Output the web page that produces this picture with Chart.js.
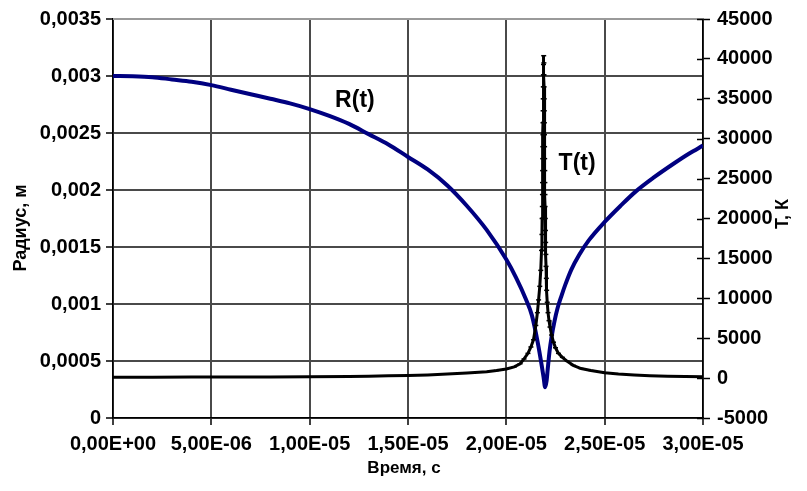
<!DOCTYPE html>
<html>
<head>
<meta charset="utf-8">
<script src="https://cdn.jsdelivr.net/npm/chart.js@4"></script>
<style>
  html, body { margin: 0; padding: 0; background: #fff; }
  #wrap { width: 807px; height: 491px; }
</style>
</head>
<body>
<div id="wrap"><canvas id="c" width="807" height="491"></canvas></div>
<script>
// Tick values of the three axes
const timeTicks = [0, 5e-6, 1e-5, 1.5e-5, 2e-5, 2.5e-5, 3e-5];
const radiusTicks = [0, 0.0005, 0.001, 0.0015, 0.002, 0.0025, 0.003, 0.0035];
const tempTicks = [-5000, 0, 5000, 10000, 15000, 20000, 25000, 30000, 35000, 40000, 45000];

// Bubble radius R(t): time in microseconds, radius in metres
const radiusTime = [0, 1, 2, 3, 4, 5, 6, 7, 8, 9, 10, 11, 12, 13, 14, 15, 16, 17, 18, 19,
  20, 20.5, 21, 21.3, 21.6, 21.8, 21.9, 21.97,
  22.05, 22.1, 22.2, 22.3, 22.45, 22.6, 22.8, 23.0, 23.3, 23.7, 24.2, 25.0, 25.8, 26.6,
  27.5, 28.5, 29.3, 30.0];
const radius = [0.003, 0.002998, 0.00299, 0.00297, 0.00295, 0.00292, 0.00288, 0.00284,
  0.0028, 0.00276, 0.00271, 0.00265, 0.00258, 0.00249, 0.0024, 0.00229, 0.00218, 0.00204,
  0.00186, 0.00165, 0.00139, 0.00123, 0.00104, 0.0009, 0.00066, 0.00046, 0.00035, 0.00027,
  0.00033, 0.00042, 0.00059, 0.00071, 0.00085, 0.00096, 0.00107, 0.00117, 0.0013, 0.00143,
  0.00156, 0.00172, 0.00186, 0.00199, 0.00211, 0.00223, 0.00232, 0.00239];

// Gas temperature T(t): time in microseconds, temperature in kelvin
const tempTime = [0, 2, 4, 6, 8, 10, 12, 13, 14, 15, 16, 17, 18, 19, 19.5, 20, 20.4, 20.7,
  20.9, 21.1, 21.25, 21.38, 21.5, 21.58, 21.64, 21.7, 21.75, 21.79, 21.81,
  21.82, 21.83, 21.835, 21.84, 21.845, 21.85, 21.855, 21.86, 21.865, 21.87, 21.875, 21.88,
  21.885, 21.89, 21.9,
  21.91, 21.915, 21.92, 21.925, 21.93, 21.935, 21.94, 21.945, 21.95, 21.955, 21.96, 21.965,
  21.97, 21.98, 21.99, 22.0, 22.01, 22.02, 22.035, 22.05, 22.08, 22.12, 22.17, 22.22, 22.3,
  22.4, 22.5, 22.65, 22.85, 23.1, 23.4, 23.8, 24.3, 25.0, 25.7, 26.5, 27.3, 28.2, 29.1, 30.0];
const temperature = [120, 120, 130, 140, 150, 170, 200, 240, 280, 330, 400, 500, 640, 800,
  950, 1150, 1400, 1800, 2400, 3100, 3900, 4800, 6600, 8200, 9800, 11500, 13500, 16000, 18000,
  20000, 21500, 23000, 24500, 26000, 27500, 29000, 30500, 32000, 33500, 35000, 36500,
  38000, 39300, 40400,
  39500, 38000, 36500, 35000, 33500, 32000, 30500, 29000, 27500, 26000, 24500, 23000,
  21500, 20000, 18500, 17000, 15500, 14000, 12500, 11000, 9500, 8200, 7200, 6400, 5400,
  4500, 3800, 3100, 2600, 2100, 1600, 1200, 950, 680, 500, 380, 290, 230, 190, 170];

const FONT = '"Liberation Sans", Arial, sans-serif';

function fmtTime(v) {
  const [m, e] = v.toExponential(2).split('e');
  const sign = e[0] === '-' ? '-' : '+';
  return m.replace('.', ',') + 'E' + sign + String(Math.abs(parseInt(e, 10))).padStart(2, '0');
}
function fmtRadius(v) {
  return String(parseFloat(v.toFixed(4))).replace('.', ',');
}

// Curve captions, anchored in data coordinates
const curveCaptions = [
  { text: 'R(t)', x: 1.23e-5, y: 0.00278, axis: 'yR' },
  { text: 'T(t)', x: 2.36e-5, y: 26900, axis: 'yT' }
];

const decorations = {
  id: 'decorations',
  afterDraw(chart) {
    const ctx = chart.ctx;
    const a = chart.chartArea;
    const yT = chart.scales.yT;
    ctx.save();
    // top frame line
    ctx.strokeStyle = '#9a9a9a';
    ctx.lineWidth = 2;
    ctx.beginPath();
    ctx.moveTo(a.left, a.top);
    ctx.lineTo(a.right, a.top);
    ctx.stroke();
    // inner halves of the right-axis tick marks
    ctx.strokeStyle = '#000';
    ctx.lineWidth = 1.5;
    tempTicks.forEach(v => {
      const y = Math.round(yT.getPixelForValue(v)) + 0.5;
      ctx.beginPath();
      ctx.moveTo(a.right - 6, y);
      ctx.lineTo(a.right, y);
      ctx.stroke();
    });
    // curve captions
    ctx.fillStyle = '#000';
    ctx.font = 'bold 23px ' + FONT;
    ctx.textAlign = 'center';
    ctx.textBaseline = 'middle';
    curveCaptions.forEach(c => {
      ctx.fillText(c.text, chart.scales.x.getPixelForValue(c.x),
        chart.scales[c.axis].getPixelForValue(c.y));
    });
    // axis titles
    ctx.font = 'bold 17px ' + FONT;
    ctx.fillText('Время, с', (a.left + a.right) / 2 - 4, 468);
    ctx.font = 'bold 18px ' + FONT;
    ctx.translate(21, 228);
    ctx.rotate(-Math.PI / 2);
    ctx.fillText('Радиус, м', 0, 0);
    ctx.restore();
    ctx.save();
    ctx.fillStyle = '#000';
    ctx.font = 'bold 18px ' + FONT;
    ctx.textAlign = 'center';
    ctx.textBaseline = 'middle';
    ctx.translate(783, 214);
    ctx.rotate(-Math.PI / 2);
    ctx.fillText('Т, К', 0, 0);
    ctx.restore();
  }
};

const tickFont = { family: FONT, size: 20, weight: 'bold' };

new Chart(document.getElementById('c'), {
  type: 'line',
  data: {
    datasets: [
      {
        label: 'T(t)',
        yAxisID: 'yT',
        data: tempTime.map((t, i) => ({ x: t * 1e-6, y: temperature[i] })),
        borderColor: '#000',
        borderWidth: 3,
        pointStyle: 'line',
        pointRadius: 2.5,
        pointBorderWidth: 1.5,
        pointBorderColor: '#000',
        pointBackgroundColor: '#000',
        tension: 0
      },
      {
        label: 'R(t)',
        yAxisID: 'yR',
        data: radiusTime.map((t, i) => ({ x: t * 1e-6, y: radius[i] })),
        borderColor: '#000080',
        borderWidth: 4,
        pointRadius: 0,
        cubicInterpolationMode: 'monotone'
      }
    ]
  },
  options: {
    responsive: false,
    animation: false,
    devicePixelRatio: 1,
    layout: { padding: { top: 19, left: 0, right: 0, bottom: 0 } },
    plugins: { legend: { display: false }, tooltip: { enabled: false } },
    scales: {
      x: {
        type: 'linear',
        position: 'bottom',
        min: 0,
        max: 3e-5,
        afterBuildTicks: s => { s.ticks = timeTicks.map(v => ({ value: v })); },
        afterFit: s => { s.height = 73; s.paddingLeft = 0; s.paddingRight = 0; },
        ticks: { callback: fmtTime, font: tickFont, color: '#000', padding: 7, maxRotation: 0, autoSkip: false },
        grid: { color: '#4a4a4a', lineWidth: 2, tickLength: 7, tickColor: '#000', tickWidth: 1.5 },
        border: { color: '#000', width: 1.5 }
      },
      yR: {
        type: 'linear',
        position: 'left',
        min: 0,
        max: 0.0035,
        afterBuildTicks: s => { s.ticks = radiusTicks.map(v => ({ value: v })); },
        afterFit: s => { s.width = 113; s.paddingTop = 0; s.paddingBottom = 0; },
        ticks: { callback: fmtRadius, font: tickFont, color: '#000', padding: 5 },
        grid: {
          color: c => (c.tick && c.tick.value === 0.0035 ? 'rgba(0,0,0,0)' : '#4a4a4a'),
          lineWidth: 2, tickLength: 7, tickColor: '#000', tickWidth: 1.5
        },
        border: { color: '#000', width: 1.5 }
      },
      yT: {
        type: 'linear',
        position: 'right',
        min: -5000,
        max: 45000,
        afterBuildTicks: s => { s.ticks = tempTicks.map(v => ({ value: v })); },
        afterFit: s => { s.width = 104; s.paddingTop = 0; s.paddingBottom = 0; },
        ticks: { callback: v => String(v), font: tickFont, color: '#000', padding: 7 },
        grid: { drawOnChartArea: false, tickLength: 7, tickColor: '#000', tickWidth: 1.5 },
        border: { color: '#000', width: 1.5 }
      }
    }
  },
  plugins: [decorations]
});
</script>
</body>
</html>
